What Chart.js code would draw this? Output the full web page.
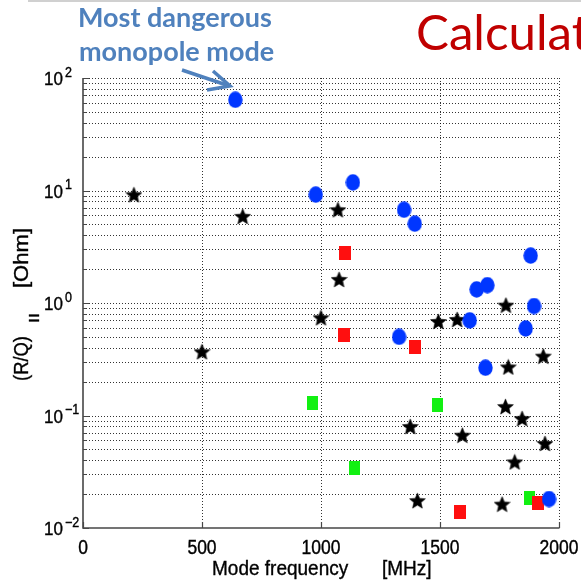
<!DOCTYPE html>
<html>
<head>
<meta charset="utf-8">
<script src="https://cdn.jsdelivr.net/npm/chart.js@4/dist/chart.umd.min.js"></script>
<style>
  html, body { margin: 0; padding: 0; background: #fff; overflow: hidden; }
  canvas { display: block; }
</style>
</head>
<body>
<canvas id="chart" width="581" height="582"></canvas>
<script>
// Monopole modes (blue circles): frequency [MHz] and (R/Q)|| [Ohm]
const monopoleFreq = [640, 978, 1134, 1349, 1394, 1881, 1654, 1699, 1895, 1625, 1860, 1328, 1691, 1958];
const monopoleRQ   = [64, 9.2, 11.8, 6.75, 5.07, 2.64, 1.32, 1.44, 0.94, 0.70, 0.594, 0.50, 0.266, 0.0181];

// Red squares
const redFreq = [1100, 1097, 1394, 1584, 1913];
const redRQ   = [2.79, 0.522, 0.406, 0.0138, 0.0168];

// Green squares
const greenFreq = [966, 1490, 1141, 1878];
const greenRQ   = [0.128, 0.123, 0.034, 0.0185];

// Black stars
const starFreq = [214, 671, 1071, 1076, 1000, 500, 1493, 1572, 1777, 1787, 1934, 1775, 1845, 1375, 1594, 1941, 1814, 1405, 1761];
const starRQ   = [9.17, 5.89, 6.75, 1.62, 0.74, 0.369, 0.685, 0.714, 0.957, 0.27, 0.337, 0.12, 0.094, 0.0798, 0.0668, 0.0564, 0.0387, 0.0175, 0.0163];

// Axis ticks
const xTicks = [0, 500, 1000, 1500, 2000];
const yDecades = [-2, -1, 0, 1, 2];
const xLabel = ['Mode frequency', '[MHz]'];
const yLabel = ['(R/Q)', '||', '[Ohm]'];

const toPoints = (xs, ys) => xs.map((x, i) => ({ x: x, y: ys[i] }));

// Marker images
function ellipseMarker(w, h, color) {
  const c = document.createElement('canvas');
  c.width = w; c.height = h;
  const g = c.getContext('2d');
  g.fillStyle = color;
  g.beginPath();
  g.ellipse(w / 2, h / 2, w / 2 - 0.3, h / 2 - 0.3, 0, 0, Math.PI * 2);
  g.fill();
  return c;
}
function rectMarker(w, h, color) {
  const c = document.createElement('canvas');
  c.width = w; c.height = h;
  const g = c.getContext('2d');
  g.fillStyle = color;
  g.fillRect(0, 0, w, h);
  return c;
}
function starMarker(size, color) {
  const c = document.createElement('canvas');
  c.width = size; c.height = size;
  const g = c.getContext('2d');
  const cx = size / 2, cy = size / 2 + 0.7;
  const ro = size / 2 - 0.2, ri = ro * 0.45;
  g.fillStyle = color;
  g.strokeStyle = color;
  g.lineWidth = 0.6;
  g.beginPath();
  for (let i = 0; i < 10; i++) {
    const r = i % 2 === 0 ? ro : ri;
    const a = -Math.PI / 2 + i * Math.PI / 5;
    const px = cx + r * Math.cos(a), py = cy + r * Math.sin(a);
    if (i === 0) g.moveTo(px, py); else g.lineTo(px, py);
  }
  g.closePath();
  g.fill();
  g.stroke();
  return c;
}

const blueDot = ellipseMarker(15, 17, '#0036ff');
const redSq = rectMarker(12, 14, '#ff0f0f');
const greenSq = rectMarker(11, 14, '#12f012');
const blackStar = starMarker(17, '#000000');

function stretchedText(ctx, text, x, y, font, align, sy) {
  ctx.save();
  ctx.translate(x, y);
  ctx.scale(1, sy);
  ctx.font = font;
  ctx.textAlign = align;
  ctx.textBaseline = 'alphabetic';
  ctx.lineWidth = 0.35;
  ctx.strokeStyle = ctx.fillStyle;
  ctx.fillText(text, 0, 0);
  ctx.strokeText(text, 0, 0);
  ctx.restore();
}

const axisPlugin = {
  id: 'matlabAxes',
  beforeDatasetsDraw(chart) {
    const ctx = chart.ctx;
    const { left, right, top, bottom } = chart.chartArea;
    const xs = chart.scales.x, ys = chart.scales.y;
    ctx.save();
    // dotted grid
    ctx.strokeStyle = '#000';
    ctx.globalAlpha = 0.8;
    ctx.lineWidth = 1;
    ctx.setLineDash([1, 2]);
    for (let d = -2; d <= 1; d++) {
      for (let m = 1; m <= 9; m++) {
        const v = m * Math.pow(10, d);
        if (d === -2 && m === 1) continue;
        const py = Math.round(ys.getPixelForValue(v)) + 0.5;
        ctx.beginPath(); ctx.moveTo(left, py); ctx.lineTo(right, py); ctx.stroke();
      }
    }
    {
      const py = Math.round(ys.getPixelForValue(100)) + 0.5;
      ctx.beginPath(); ctx.moveTo(left, py); ctx.lineTo(right, py); ctx.stroke();
    }
    xTicks.forEach(t => {
      if (t === 0) return;
      const px = Math.round(xs.getPixelForValue(t)) + 0.5;
      ctx.beginPath(); ctx.moveTo(px, top); ctx.lineTo(px, bottom); ctx.stroke();
    });
    ctx.setLineDash([]);
    ctx.globalAlpha = 1;
    // axis lines
    ctx.strokeStyle = '#474747';
    ctx.lineWidth = 1.6;
    ctx.beginPath();
    ctx.moveTo(left, top); ctx.lineTo(left, bottom); ctx.lineTo(right + 0.5, bottom);
    ctx.stroke();
    // inward ticks
    ctx.lineWidth = 1.2;
    ctx.beginPath();
    xTicks.forEach(t => {
      const px = Math.round(xs.getPixelForValue(t)) + 0.5;
      ctx.moveTo(px, bottom); ctx.lineTo(px, bottom - 6);
    });
    for (let d = -2; d <= 1; d++) {
      for (let m = 1; m <= 9; m++) {
        const py = Math.round(ys.getPixelForValue(m * Math.pow(10, d))) + 0.5;
        ctx.moveTo(left, py); ctx.lineTo(left + (m === 1 ? 6 : 3.5), py);
      }
    }
    {
      const py = Math.round(ys.getPixelForValue(100)) + 0.5;
      ctx.moveTo(left, py); ctx.lineTo(left + 6, py);
    }
    ctx.stroke();
    ctx.restore();
  },
  afterDraw(chart) {
    const ctx = chart.ctx;
    const xs = chart.scales.x, ys = chart.scales.y;
    ctx.save();
    ctx.fillStyle = '#000';
    const sy = 1.12;
    // x tick labels
    xTicks.forEach(t => {
      stretchedText(ctx, String(t), xs.getPixelForValue(t), 554, '17.5px "Liberation Sans", Arial, sans-serif', 'center', sy);
    });
    // y tick labels (10 with superscript exponent)
    yDecades.forEach(d => {
      const gy = ys.getPixelForValue(Math.pow(10, d));
      stretchedText(ctx, '10', 63, gy + 7, '17px "Liberation Sans", Arial, sans-serif', 'right', sy);
      const exp = d < 0 ? '\u2212' + Math.abs(d) : String(d);
      stretchedText(ctx, exp, 65, gy - 1.5, '12.5px "Liberation Sans", Arial, sans-serif', 'left', sy);
    });
    // x axis title
    stretchedText(ctx, xLabel[0], 212, 575, '19px "Liberation Sans", Arial, sans-serif', 'left', 1.1);
    stretchedText(ctx, xLabel[1], 382, 575, '19px "Liberation Sans", Arial, sans-serif', 'left', 1.1);
    // y axis title (rotated)
    ctx.save();
    ctx.translate(28, 381);
    ctx.rotate(-Math.PI / 2);
    ctx.textBaseline = 'alphabetic';
    ctx.textAlign = 'left';
    ctx.lineWidth = 0.35;
    ctx.strokeStyle = '#000';
    const fitRun = (text, x0, x1, font, dy) => {
      ctx.font = font;
      const w = ctx.measureText(text).width;
      ctx.save();
      ctx.translate(x0, dy);
      ctx.scale((x1 - x0) / w, 1);
      ctx.fillText(text, 0, 0);
      ctx.strokeText(text, 0, 0);
      ctx.restore();
    };
    fitRun(yLabel[0], 0, 45, '20px "Liberation Sans", Arial, sans-serif', 0);
    fitRun(yLabel[1], 58, 68, '10px "Liberation Sans", Arial, sans-serif', 9);
    fitRun(yLabel[2], 93, 153, '20px "Liberation Sans", Arial, sans-serif', 0);
    ctx.restore();

    // thin rule at the top
    ctx.fillStyle = '#d0d0d0';
    ctx.fillRect(28, 0, 553, 2);

    // annotation
    const blue = '#4f81bd';
    ctx.fillStyle = blue;
    ctx.textAlign = 'left';
    ctx.textBaseline = 'alphabetic';
    ctx.font = 'bold 24px Lato, "Open Sans", sans-serif';
    const w1 = ctx.measureText('Most dangerous').width;
    const fs = 24 * 194 / w1;
    ctx.font = 'bold ' + fs.toFixed(2) + 'px Lato, "Open Sans", sans-serif';
    ctx.fillText('Most dangerous', 78, 27);
    ctx.fillText('monopole mode', 79, 61);
    // arrow
    ctx.strokeStyle = blue;
    ctx.lineWidth = 3.5;
    ctx.lineCap = 'butt';
    ctx.lineJoin = 'miter';
    ctx.beginPath();
    ctx.moveTo(182, 70); ctx.lineTo(228, 85.5);
    ctx.stroke();
    ctx.beginPath();
    ctx.moveTo(213, 71); ctx.lineTo(230, 86); ctx.lineTo(207, 90);
    ctx.stroke();

    // title fragment
    ctx.fillStyle = '#c00000';
    ctx.font = '40px Lato, "Open Sans", sans-serif';
    const w2 = ctx.measureText('Calcula').width;
    const fs2 = 40 * 156 / w2;
    ctx.font = fs2.toFixed(2) + 'px Lato, "Open Sans", sans-serif';
    ctx.fillText('Calculat', 416, 50);
    ctx.restore();
  }
};

new Chart(document.getElementById('chart'), {
  type: 'scatter',
  data: {
    datasets: [
      { label: 'monopole', data: toPoints(monopoleFreq, monopoleRQ), pointStyle: blueDot, pointRadius: 7 },
      { label: 'red', data: toPoints(redFreq, redRQ), pointStyle: redSq, pointRadius: 7 },
      { label: 'green', data: toPoints(greenFreq, greenRQ), pointStyle: greenSq, pointRadius: 7 },
      { label: 'stars', data: toPoints(starFreq, starRQ), pointStyle: blackStar, pointRadius: 7 }
    ]
  },
  options: {
    responsive: false,
    animation: false,
    devicePixelRatio: 1,
    events: [],
    layout: { padding: { left: 83, right: 22, top: 78, bottom: 54 } },
    plugins: { legend: { display: false }, tooltip: { enabled: false } },
    scales: {
      x: { type: 'linear', min: 0, max: 2000, display: false },
      y: { type: 'logarithmic', min: 0.01, max: 100, display: false }
    }
  },
  plugins: [axisPlugin]
});
</script>
</body>
</html>
